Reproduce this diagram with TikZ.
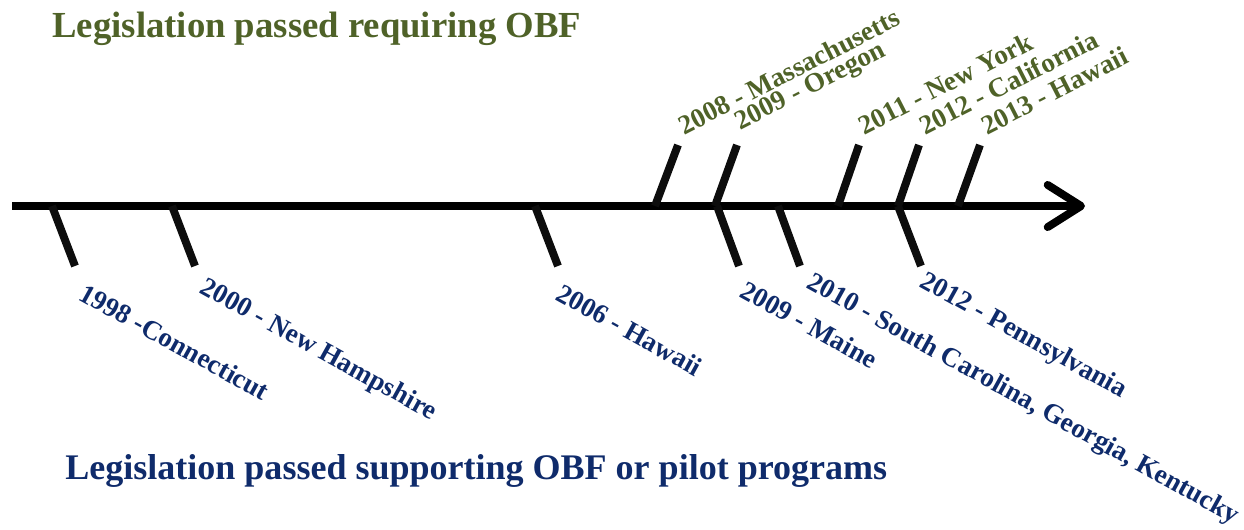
\documentclass[tikz,border=0pt]{standalone}
\usepackage{fontspec}
\setmainfont{Liberation Serif}
\usetikzlibrary{arrows.meta,positioning}
\definecolor{oliveTxt}{HTML}{4F6228}
\definecolor{navyTxt}{HTML}{0F2B6B}

\begin{document}
\begin{tikzpicture}[x=0.02cm,y=-0.02cm,
    tick/.style={line width=4.5pt,black!95},
    uplab/.style={text=oliveTxt,font=\bfseries\fontsize{15.5}{18}\selectfont,
      rotate=27,anchor=south west,inner sep=0pt},
    lowlab/.style={text=navyTxt,font=\bfseries\fontsize{15.5}{18}\selectfont,
      rotate=-29,anchor=north west,inner sep=0pt},
    heading/.style={font=\bfseries\fontsize{20.5}{24}\selectfont,
      anchor=base west,inner sep=0pt}]

  \useasboundingbox (0,0) rectangle (1244,529);

  % Headings
  \node[heading,text=oliveTxt,font=\bfseries\fontsize{20.9}{24}\selectfont]
    (reqhead) at (52,37) {Legislation passed requiring OBF};
  \node[heading,text=navyTxt] (suphead) at (65,479) {Legislation passed supporting OBF or pilot programs};

  % Time axis
  \coordinate (axstart) at (12,206);
  \coordinate (axend) at (1085,206);
  \draw[line width=4.5pt,-{Straight Barb[length=19pt,width=24pt,round]}]
    (axstart) -- (axend);

  % Top: legislation requiring OBF
  \coordinate (ma0) at (655,206);  \coordinate (ma1) at (678,145);
  \coordinate (or0) at (715,206);  \coordinate (or1) at (737,145);
  \coordinate (ny0) at (838,206);  \coordinate (ny1) at (859,145);
  \coordinate (ca0) at (898,206);  \coordinate (ca1) at (919,145);
  \coordinate (hi0) at (958,206);  \coordinate (hi1) at (980,145);
  \draw[tick] (ma0) -- (ma1);
  \draw[tick] (or0) -- (or1);
  \draw[tick] (ny0) -- (ny1);
  \draw[tick] (ca0) -- (ca1);
  \draw[tick] (hi0) -- (hi1);

  \node[uplab] (malab) at (684,136) {2008 - Massachusetts};
  \node[uplab] (orlab) at (743,136) {2009 - Oregon};
  \node[uplab] (nylab) at (864,136) {2011 - New York};
  \node[uplab] (calab) at (925,136) {2012 - California};
  \node[uplab] (hilab) at (987,136) {2013 - Hawaii};

  % Bottom: legislation supporting OBF or pilot programs
  \coordinate (ct0) at (52,206);   \coordinate (ct1) at (75,266);
  \coordinate (nh0) at (172,206);  \coordinate (nh1) at (195,266);
  \coordinate (hw0) at (535,206);  \coordinate (hw1) at (558,266);
  \coordinate (me0) at (717,206);  \coordinate (me1) at (739,266);
  \coordinate (sc0) at (778,206);  \coordinate (sc1) at (800,266);
  \coordinate (pa0) at (898,206);  \coordinate (pa1) at (921,266);
  \draw[tick] (ct0) -- (ct1);
  \draw[tick] (nh0) -- (nh1);
  \draw[tick] (hw0) -- (hw1);
  \draw[tick] (me0) -- (me1);
  \draw[tick] (sc0) -- (sc1);
  \draw[tick] (pa0) -- (pa1);

  \node[lowlab] (ctlab) at (87,282) {1998 -Connecticut};
  \node[lowlab] (nhlab) at (208,275) {2000 - New Hampshire};
  \node[lowlab] (hwlab) at (564,282) {2006 - Hawaii};
  \node[lowlab] (melab) at (748,279) {2009 - Maine};
  \node[lowlab] (sclab) at (815,270) {2010 - South Carolina, Georgia, Kentucky};
  \node[lowlab] (palab) at (928,269) {2012 - Pennsylvania};

\end{tikzpicture}
\end{document}
